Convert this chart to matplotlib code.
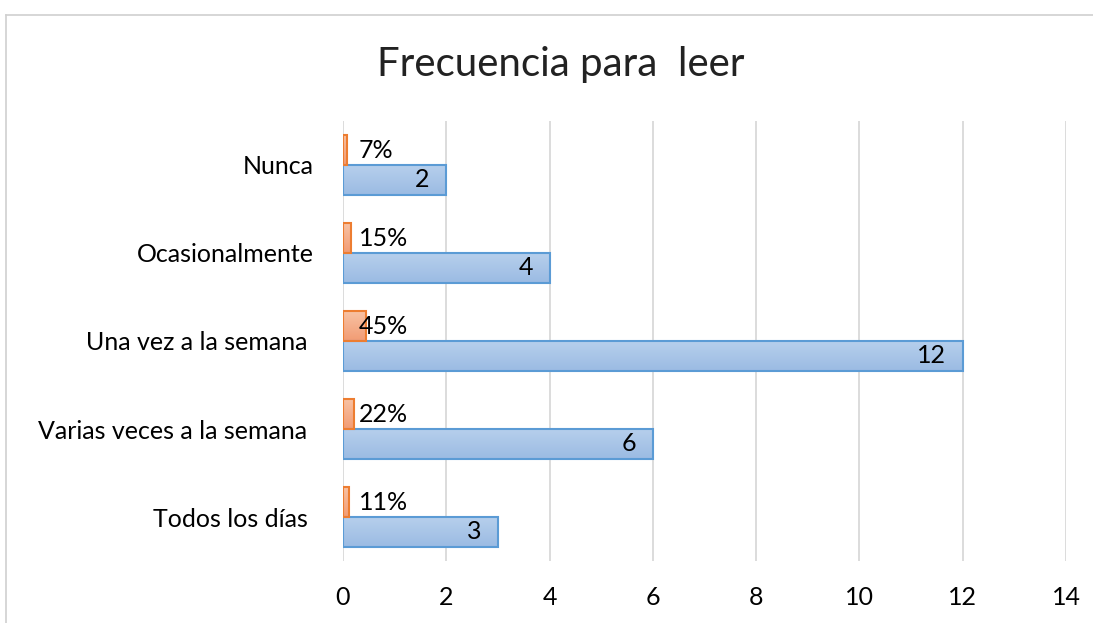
import numpy as np
import matplotlib
matplotlib.use('Agg')
import matplotlib.pyplot as plt
from matplotlib.colors import LinearSegmentedColormap
from matplotlib.lines import Line2D

# ── Data ───────────────────────────────────────────────────────────────────
categories = ['Todos los días ', 'Varias veces a la semana ', 'Una vez a la semana ',
              'Ocasionalmente', 'Nunca']
counts = [3, 6, 12, 4, 2]
shares = [0.11, 0.22, 0.45, 0.15, 0.07]
share_labels = ['11%', '22%', '45%', '15%', '7%']
xticks = [0, 2, 4, 6, 8, 10, 12, 14]

plt.rcParams['font.family'] = ['Lato', 'DejaVu Sans']

BAR_H = 0.34
FS = 18
blue_cmap = LinearSegmentedColormap.from_list('blue', ['#9BBBE3', '#B6CFEC'])
orange_cmap = LinearSegmentedColormap.from_list('orange', ['#F29C74', '#F8C2A4'])
grad = np.linspace(0, 1, 64).reshape(-1, 1)

fig = plt.figure(figsize=(10.93, 6.23), dpi=100)
ax = fig.add_axes([0.3138, 0.0995, 0.6615, 0.7063])

y = np.arange(len(categories))


def gradient_bars(ax, ys, widths, cmap, edge):
    bars = ax.barh(ys, widths, height=BAR_H, facecolor='none',
                   edgecolor=edge, linewidth=1.5, zorder=3)
    for b in bars:
        x0, y0 = b.get_x(), b.get_y()
        im = ax.imshow(grad, extent=[x0, x0 + b.get_width(), y0, y0 + b.get_height()],
                       origin='lower', aspect='auto', cmap=cmap, zorder=2)
        im.set_clip_path(b)
    return bars


gradient_bars(ax, y - BAR_H / 2, counts, blue_cmap, '#5B9BD5')
gradient_bars(ax, y + BAR_H / 2, shares, orange_cmap, '#ED7D31')

for yi, c in zip(y, counts):
    ax.text(c - 0.32, yi - BAR_H / 2, str(c), ha='right', va='center',
            fontsize=FS, color='black', zorder=4)
for yi, lab in zip(y, share_labels):
    ax.text(0.3, yi + BAR_H / 2, lab, ha='left', va='center',
            fontsize=FS, color='black', zorder=4)

ax.set_xlim(0, 14)
ax.set_ylim(-0.5, len(categories) - 0.5)
ax.set_xticks(xticks)
ax.set_yticks(y)
ax.set_yticklabels(categories, fontsize=FS)
ax.tick_params(axis='x', labelsize=FS, length=0, pad=18)
ax.tick_params(axis='y', length=0, pad=21)
for s in ax.spines.values():
    s.set_visible(False)
ax.grid(axis='x', color='#D9D9D9', linewidth=1.3, zorder=0)
ax.set_axisbelow(True)

fig.text(0.513, 0.897, 'Frecuencia para  leer', ha='center', va='center',
         fontsize=29, color='#222222')

# outer chart frame (cut off at right and bottom)
fig.add_artist(Line2D([6 / 1093, 6 / 1093], [0, 1 - 15 / 623], color='#D0D0D0', lw=1.2))
fig.add_artist(Line2D([6 / 1093, 1], [1 - 15 / 623, 1 - 15 / 623], color='#D0D0D0', lw=1.2))

fig.savefig('out.png', dpi=100)
